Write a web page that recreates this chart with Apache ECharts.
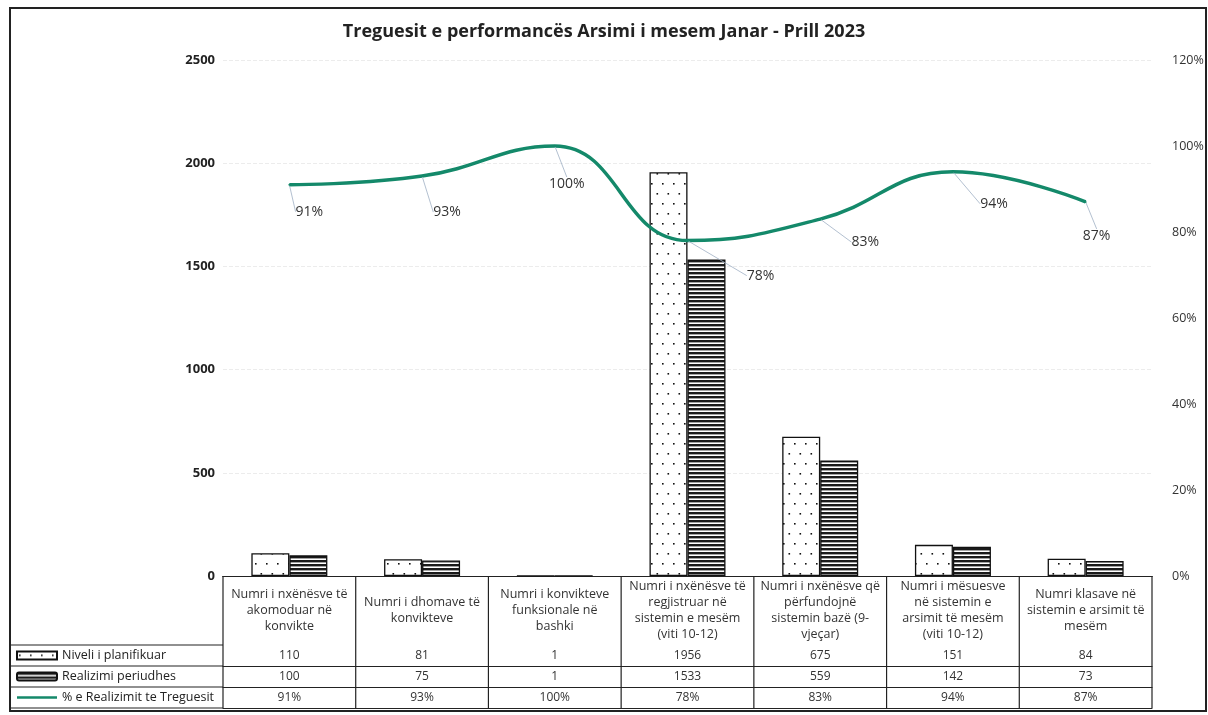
<!DOCTYPE html>
<html>
<head>
<meta charset="utf-8">
<script src="https://cdn.jsdelivr.net/npm/echarts@6/dist/echarts.min.js"></script>
<style>
  html, body { margin: 0; padding: 0; background: #fff; }
  #chart { width: 1208px; height: 715px; }
</style>
</head>
<body>
<div id="chart"></div>
<script>
// kategorite (tekst i tabeles)
const categories = [
  'Numri i nxënësve të\nakomoduar në\nkonvikte',
  'Numri i dhomave të\nkonvikteve',
  'Numri i konvikteve\nfunksionale në\nbashki',
  'Numri i nxënësve të\nregjistruar në\nsistemin e mesëm\n(viti 10-12)',
  'Numri i nxënësve që\npërfundojnë\nsistemin bazë (9-\nvjeçar)',
  'Numri i mësuesve\nnë sistemin e\narsimit të mesëm\n(viti 10-12)',
  'Numri klasave në\nsistemin e arsimit të\nmesëm'
];
const planned = [110, 81, 1, 1956, 675, 151, 84];
const realized = [100, 75, 1, 1533, 559, 142, 73];
const realizedPct = [91, 93, 100, 78, 83, 94, 87];
const seriesNames = ['Niveli i planifikuar', 'Realizimi periudhes', '% e Realizimit te Treguesit'];
const leftAxisMax = 2500, leftAxisStep = 500;
const rightAxisMax = 120, rightAxisStep = 20;

// zhvendosja e etiketave te perqindjes (vetem pozicion)
const pctLabelShift = [[20, 27], [25, 36], [12, 38], [73, 35], [45, 23], [41, 32], [11, 34]];

const GRID_LEFT = 223, GRID_RIGHT = 56, GRID_TOP = 60, GRID_BOTTOM = 139;
const HEADER_H = 69, ROW_H = 21;
const TABLE_TOP = 715 - GRID_BOTTOM;
const lineColor = '#14896a';
const ink = '#222';
const FONT = 'Open Sans';

function dotPattern() {
  const c = document.createElement('canvas');
  c.width = 11; c.height = 20;
  const g = c.getContext('2d');
  g.fillStyle = '#fff'; g.fillRect(0, 0, 11, 20);
  g.fillStyle = '#111';
  g.fillRect(2, 3, 1.6, 1.6);
  g.fillRect(7.5, 13, 1.6, 1.6);
  return c;
}
function stripePattern() {
  const c = document.createElement('canvas');
  c.width = 8; c.height = 4;
  const g = c.getContext('2d');
  g.fillStyle = '#fff'; g.fillRect(0, 0, 8, 4);
  g.fillStyle = '#1a1a1a'; g.fillRect(0, 0, 8, 2.4);
  return c;
}

// rreshtat e tabeles si boshte x shtese
function tableAxis(offset, values, height) {
  return {
    type: 'category',
    gridIndex: 0,
    position: 'bottom',
    offset: offset,
    data: categories,
    axisLine: { show: true, lineStyle: { color: ink, width: 1.2 } },
    axisTick: { show: false },
    axisLabel: {
      show: !!values,
      interval: 0,
      margin: height / 2,
      verticalAlign: 'middle',
      fontFamily: FONT,
      fontSize: 12,
      color: '#333',
      formatter: (v, i) => values ? values[i] : ''
    },
    splitLine: { show: false }
  };
}

const chart = echarts.init(document.getElementById('chart'));

const rowTop = k => TABLE_TOP + HEADER_H + k * ROW_H;

const option = {
  backgroundColor: '#fff',
  animation: false,
  title: {
    text: 'Treguesit e performancës Arsimi i mesem Janar - Prill 2023',
    left: 'center',
    top: 18,
    textStyle: { fontFamily: FONT, fontSize: 18, fontWeight: 'bold', color: ink }
  },
  legend: {
    orient: 'vertical',
    left: 16,
    top: TABLE_TOP + HEADER_H + 3.5,
    padding: 0,
    itemWidth: 40,
    itemHeight: 8,
    itemGap: 7,
    selectedMode: false,
    textStyle: { fontFamily: FONT, fontSize: 12.5, color: ink, lineHeight: 14 },
    data: [
      { name: seriesNames[0], icon: 'rect' },
      { name: seriesNames[1], icon: 'roundRect' },
      { name: seriesNames[2], icon: 'path://M0,0L44,0L44,3L0,3Z' }
    ]
  },
  grid: { left: GRID_LEFT, right: GRID_RIGHT, top: GRID_TOP, bottom: GRID_BOTTOM },
  xAxis: [
    {
      type: 'category',
      data: categories,
      axisLine: { show: true, lineStyle: { color: ink, width: 1.2 } },
      axisTick: { show: false },
      axisLabel: {
        interval: 0,
        margin: HEADER_H / 2,
        verticalAlign: 'middle',
        align: 'center',
        fontFamily: FONT,
        fontSize: 12.5,
        lineHeight: 16,
        color: '#333'
      }
    },
    tableAxis(HEADER_H, planned, ROW_H),
    tableAxis(HEADER_H + ROW_H, realized, ROW_H),
    tableAxis(HEADER_H + 2 * ROW_H, realizedPct.map(v => v + '%'), ROW_H),
    tableAxis(HEADER_H + 3 * ROW_H, null, 0)
  ],
  yAxis: [
    {
      type: 'value',
      min: 0,
      max: leftAxisMax,
      interval: leftAxisStep,
      axisLine: { show: false },
      axisTick: { show: false },
      axisLabel: { margin: 8, fontFamily: FONT, fontSize: 13, fontWeight: 'bold', color: ink, formatter: v => String(v) },
      splitLine: { show: true, lineStyle: { color: '#ececec', type: 'dashed', width: 1 } }
    },
    {
      type: 'value',
      min: 0,
      max: rightAxisMax,
      interval: rightAxisStep,
      position: 'right',
      axisLine: { show: false },
      axisTick: { show: false },
      axisLabel: { margin: 20, fontFamily: FONT, fontSize: 12.5, color: '#333', formatter: '{value}%' },
      splitLine: { show: false }
    }
  ],
  series: [
    {
      name: seriesNames[0],
      type: 'bar',
      data: planned,
      barWidth: 38,
      barGap: '0%',
      itemStyle: { color: { image: dotPattern(), repeat: 'repeat' }, borderColor: '#111', borderWidth: 1.3 }
    },
    {
      name: seriesNames[1],
      type: 'bar',
      data: realized,
      barWidth: 38,
      itemStyle: { color: { image: stripePattern(), repeat: 'repeat' }, borderColor: '#111', borderWidth: 1.3 }
    },
    {
      name: seriesNames[2],
      type: 'line',
      yAxisIndex: 1,
      data: realizedPct,
      smooth: 0.45,
      symbol: 'circle',
      symbolSize: 2,
      itemStyle: { color: lineColor },
      lineStyle: { color: lineColor, width: 3.5 },
      label: {
        show: true,
        position: 'inside',
        formatter: '{c}%',
        fontFamily: FONT,
        fontSize: 14,
        color: '#333'
      },
      labelLine: { show: true, lineStyle: { color: '#9fb0c4', width: 0.8 } },
      labelLayout: p => ({ dx: pctLabelShift[p.dataIndex][0], dy: pctLabelShift[p.dataIndex][1] }),
      z: 5
    }
  ]
};

chart.setOption(option);

// vijat vertikale te tabeles, nga pozicionet e kategorive ne bosht
const centers = categories.map(c => chart.convertToPixel({ xAxisIndex: 0 }, c));
const band = centers[1] - centers[0];
const cellEdges = centers.map(x => x - band / 2).concat([centers[centers.length - 1] + band / 2]);
const tableBottom = rowTop(3);

chart.setOption({
  graphic: [
    // korniza e jashtme
    { type: 'rect', shape: { x: 10, y: 8, width: 1196, height: 703 }, style: { fill: 'none', stroke: ink, lineWidth: 2 }, silent: true },
    // vijat e kolones se legjendes
    ...[0, 1, 2, 3].map(k => ({
      type: 'line',
      shape: { x1: 10, y1: rowTop(k), x2: GRID_LEFT, y2: rowTop(k) },
      style: { stroke: ink, lineWidth: 1.2 },
      silent: true
    })),
    ...cellEdges.map(x => ({
      type: 'line',
      shape: { x1: x, y1: TABLE_TOP, x2: x, y2: tableBottom },
      style: { stroke: ink, lineWidth: 1.2 },
      silent: true
    }))
  ]
});
</script>
</body>
</html>
